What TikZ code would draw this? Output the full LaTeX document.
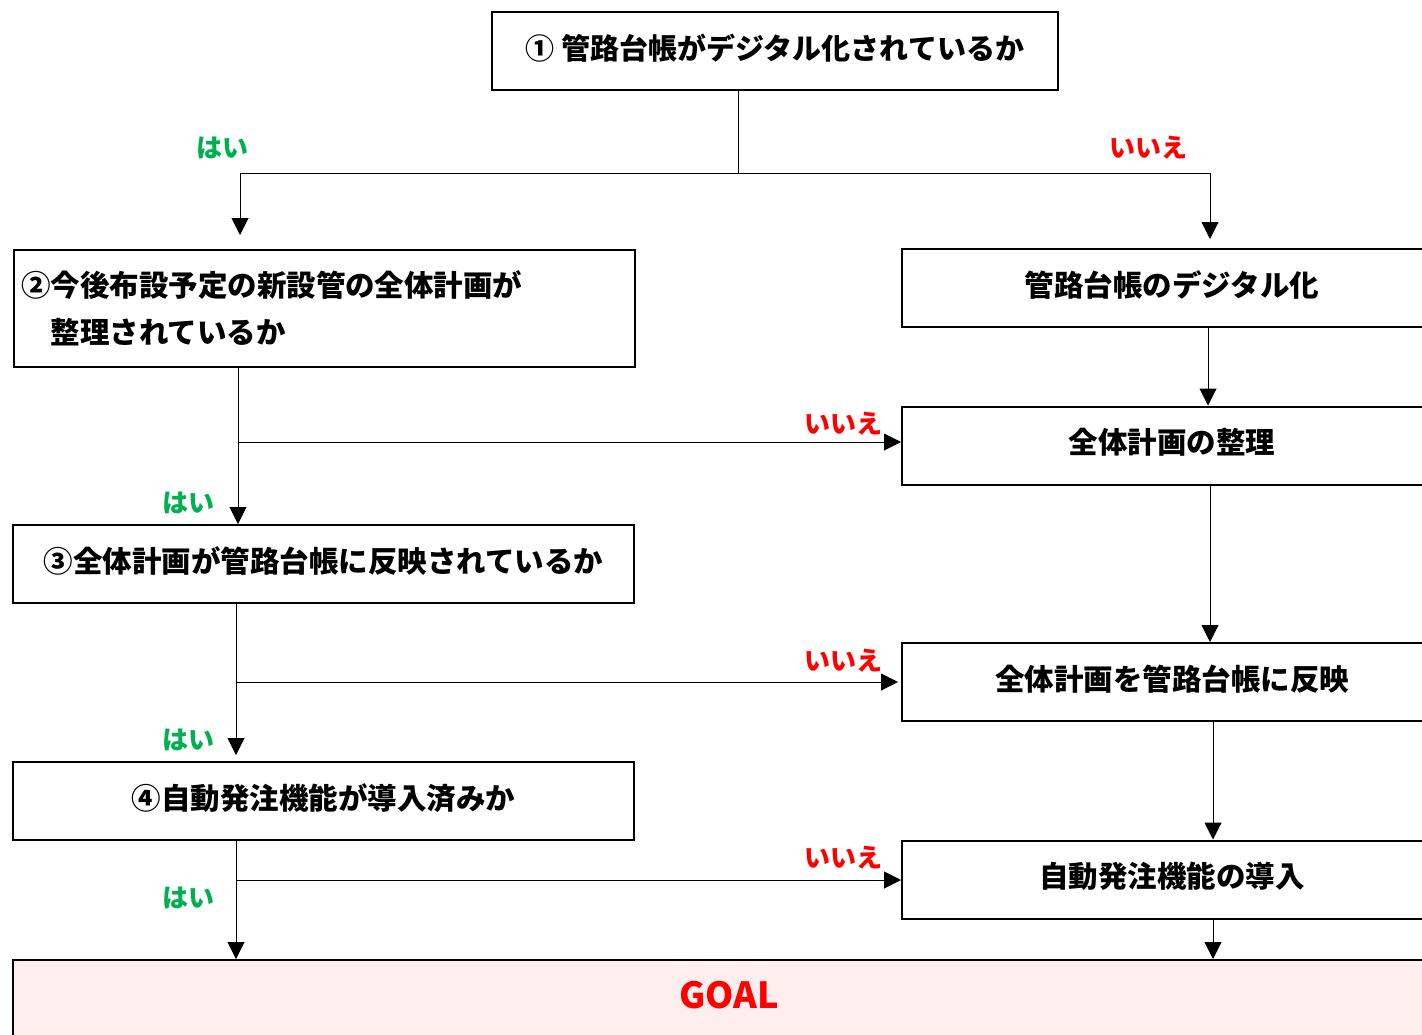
\documentclass[tikz,border=0pt]{standalone}
\usepackage{fontspec}
\setmainfont{Noto Sans CJK JP}
\usetikzlibrary{arrows.meta}
\definecolor{yesgreen}{HTML}{00B050}
\definecolor{nored}{HTML}{FF0000}
\definecolor{goalfill}{HTML}{FEEEEE}
\begin{document}
\begin{tikzpicture}[x=1pt,y=-1pt,
  box/.style={draw, line width=2pt, minimum height=78pt, inner sep=0pt, text height=24pt, text depth=8pt, font=\fontsize{29.5}{35}\selectfont\bfseries},
  lbox/.style={box, minimum width=621pt},
  rbox/.style={box, minimum width=540pt},
  conn/.style={line width=1pt},
  arr/.style={line width=1pt, -{Triangle[length=17pt,width=17pt]}},
  yes/.style={text=yesgreen, inner sep=0pt, font=\fontsize{26}{30}\selectfont\bfseries},
  no/.style={text=nored, inner sep=0pt, font=\fontsize{26}{30}\selectfont\bfseries}]
\useasboundingbox (0,0) rectangle (1422,1034);
\clip (0,0) rectangle (1422,1034);

% left column
\node[box, minimum width=566pt, font=\fontsize{29}{34}\selectfont\bfseries] (q1) at (775,51) {① 管路台帳がデジタル化されているか};
\node[lbox, anchor=north west, minimum height=117pt, text height=, text depth=, text width=607pt, align=left, inner xsep=7pt, font=\fontsize{29.5}{47}\selectfont\bfseries] (q2) at (13,249) {②今後布設予定の新設管の全体計画が\\　整理されているか};
\node[lbox] (q3) at (323.5,564) {③全体計画が管路台帳に反映されているか};
\node[lbox] (q4) at (323.5,801) {④自動発注機能が導入済みか};

% right column
\node[rbox] (r1) at (1172,288) {管路台帳のデジタル化};
\node[rbox] (r2) at (1172,445.5) {全体計画の整理};
\node[rbox] (r3) at (1172,682) {全体計画を管路台帳に反映};
\node[rbox] (r4) at (1172,879.5) {自動発注機能の導入};

% goal
\node[draw, line width=2pt, fill=goalfill, anchor=north, minimum width=1432pt, minimum height=80pt, text height=27pt, text depth=10pt, text=nored, font=\fontsize{36}{40}\selectfont\bfseries] (goal) at (729,959) {GOAL};

% split from q1
\coordinate (sp) at (738,173);
\coordinate (spL) at (240,173);
\coordinate (spR) at (1210,173);
\draw[conn] (q1.south -| sp) -- (sp);
\draw[conn] (spL) -- (spR);
\draw[arr, shorten >=14pt] (spL) -- (spL |- q2.north);
\draw[arr, shorten >=9pt] (spR) -- (spR |- r1.north);
\node[yes] (y1) at (222,148) {はい};
\node[no] (n1) at (1148,148) {いいえ};

% q2
\coordinate (b2) at (238,442);
\draw[arr] (q2.south -| b2) -- (q3.north -| b2);
\draw[arr] (b2) -- (b2 -| r2.west);
\node[yes] (y2) at (188,503) {はい};
\node[no] (n2) at (843,424) {いいえ};

% q3
\coordinate (b3) at (236,682);
\draw[arr, shorten >=6pt] (q3.south -| b3) -- (q4.north -| b3);
\draw[arr, shorten >=3pt] (b3) -- (b3 -| r3.west);
\node[yes] (y3) at (188,740) {はい};
\node[no] (n3) at (843,661) {いいえ};

% q4
\coordinate (b4) at (236,880);
\draw[arr] (q4.south -| b4) -- (goal.north -| b4);
\draw[arr] (b4) -- (b4 -| r4.west);
\node[yes] (y4) at (188,898) {はい};
\node[no] (n4) at (843,858) {いいえ};

% right column arrows
\coordinate (c1) at (1208,0);
\coordinate (c2) at (1210,0);
\coordinate (c3) at (1213,0);
\draw[arr] (r1.south -| c1) -- (r2.north -| c1);
\draw[arr] (r2.south -| c2) -- (r3.north -| c2);
\draw[arr] (r3.south -| c3) -- (r4.north -| c3);
\draw[arr] (r4.south -| c3) -- (goal.north -| c3);
\end{tikzpicture}
\end{document}
